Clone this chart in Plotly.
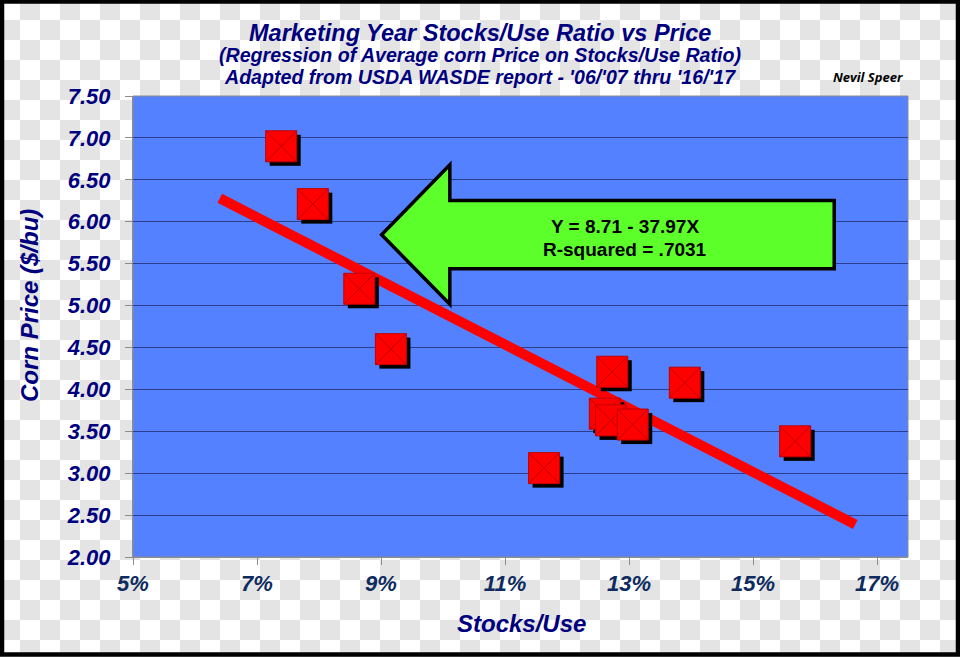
import plotly.graph_objects as go

# ---- data ----
stocks_use = [0.0739, 0.0790, 0.0865, 0.0916, 0.1163, 0.1273, 0.1261, 0.1271, 0.1306, 0.1390, 0.1568]
price = [6.90, 6.21, 5.20, 4.48, 3.06, 4.21, 3.71, 3.63, 3.58, 4.08, 3.38]
x_ticks = [0.05, 0.07, 0.09, 0.11, 0.13, 0.15, 0.17]
x_tick_labels = ["5%", "7%", "9%", "11%", "13%", "15%", "17%"]
y_ticks = [2.0, 2.5, 3.0, 3.5, 4.0, 4.5, 5.0, 5.5, 6.0, 6.5, 7.0, 7.5]
y_tick_labels = ["%.2f" % v for v in y_ticks]
intercept, slope = 8.71, -37.97
fit_x = [0.064, 0.1665]
fit_y = [intercept + slope * v for v in fit_x]

# ---- layout geometry ----
W, H = 960, 657
ML, MR, MT, MB = 133, 52, 96, 100
PW, PH = W - ML - MR, H - MT - MB
XR = [0.05, 0.175]
YR = [2.0, 7.5]
dx = 4 * (XR[1] - XR[0]) / PW
dy = 4 * (YR[1] - YR[0]) / PH

def px(x):
    return (x - ML) / PW

def py(y):
    return (H - MB - y) / PH

FONT = "Liberation Sans, Arial, sans-serif"
NAVY = "#00007f"
CHECK_GRAY = "#e4e4e4"

# checkerboard background (transparent-PNG look): gray cells outside the plot area
CELL = 20
PL, PR_, PT, PB = ML, W - MR, MT, H - MB


def outside_pieces(x0, y0, x1, y1):
    if x1 <= PL or x0 >= PR_ or y1 <= PT or y0 >= PB:
        return [(x0, y0, x1, y1)]
    pieces = []
    if y0 < PT:
        pieces.append((x0, y0, x1, PT))
    if y1 > PB:
        pieces.append((x0, PB, x1, y1))
    my0, my1 = max(y0, PT), min(y1, PB)
    if x0 < PL:
        pieces.append((x0, my0, PL, my1))
    if x1 > PR_:
        pieces.append((PR_, my0, x1, my1))
    return pieces


checker = []
for j in range(0, H // CELL + 1):
    for i in range(0, W // CELL + 1):
        if (i + j) % 2 == 1:
            cx0, cy0 = i * CELL, j * CELL
            cx1, cy1 = min(cx0 + CELL, W), min(cy0 + CELL, H)
            for (a, b, c, d) in outside_pieces(cx0, cy0, cx1, cy1):
                if c - a <= 0 or d - b <= 0:
                    continue
                checker.append(dict(type="rect", xref="paper", yref="paper",
                                    x0=px(a), x1=px(c), y0=py(d), y1=py(b),
                                    fillcolor=CHECK_GRAY, line=dict(width=0), layer="below"))

fig = go.Figure()
fig.add_trace(go.Scatter(x=fit_x, y=fit_y, mode="lines",
                         line=dict(color="#ff0000", width=10), hoverinfo="skip"))
fig.add_trace(go.Scatter(x=[v + dx for v in stocks_use], y=[v - dy for v in price],
                         mode="markers", marker=dict(symbol="square", size=31, color="#000000",
                                                     line=dict(width=0)), hoverinfo="skip"))
fig.add_trace(go.Scatter(x=stocks_use, y=price, mode="markers",
                         marker=dict(symbol="square-x", size=31, color="#ff0000",
                                     line=dict(color="#c00000", width=1))))

# arrow (data coords)
ax_tip, ax_head, ax_end = 0.0901, 0.1011, 0.1631
ay_mid, ay_ht, ay_st, ay_sb, ay_hb = 5.845, 6.68, 6.254, 5.44, 5.015
arrow_path = (f"M {ax_tip},{ay_mid} L {ax_head},{ay_ht} L {ax_head},{ay_st} L {ax_end},{ay_st} "
              f"L {ax_end},{ay_sb} L {ax_head},{ay_sb} L {ax_head},{ay_hb} Z")

shapes = checker + [
    dict(type="rect", xref="paper", yref="paper", x0=0, x1=1, y0=0, y1=1,
         fillcolor="#5481ff", line=dict(color="#8c8c8c", width=1), layer="below"),
    dict(type="path", xref="x", yref="y", path=arrow_path, fillcolor="#5cff2a",
         line=dict(color="#000000", width=3.5), layer="above"),
    dict(type="rect", xref="paper", yref="paper",
         x0=px(2), x1=px(W - 2), y0=py(H - 2.5), y1=py(1.5),
         line=dict(color="#000000", width=4.5), fillcolor="rgba(0,0,0,0)", layer="above"),
]

annotations = [
    dict(text="Marketing Year Stocks/Use Ratio vs Price", x=px(480), y=py(33),
         font=dict(family=FONT, size=23.5, color=NAVY, weight="bold", style="italic")),
    dict(text="(Regression of Average corn Price on Stocks/Use Ratio)", x=px(480), y=py(55),
         font=dict(family=FONT, size=19.6, color=NAVY, weight="bold", style="italic")),
    dict(text="Adapted from USDA WASDE report - '06/'07 thru '16/'17", x=px(480), y=py(77),
         font=dict(family=FONT, size=19.6, color=NAVY, weight="bold", style="italic")),
    dict(text="Nevil Speer", x=px(868), y=py(77),
         font=dict(family="Open Sans, sans-serif", size=13, color="#000000", weight="bold", style="italic")),
    dict(text="Y = 8.71 - 37.97X", x=px(625), y=py(227),
         font=dict(family=FONT, size=19, color="#000000", weight="bold")),
    dict(text="R-squared = .7031", x=px(625), y=py(249),
         font=dict(family=FONT, size=19, color="#000000", weight="bold")),
    dict(text="Corn Price ($/bu)", x=px(29), y=py(306), textangle=-90,
         font=dict(family=FONT, size=24, color=NAVY, weight="bold", style="italic")),
    dict(text="Stocks/Use", x=px(521), y=py(623),
         font=dict(family=FONT, size=24, color=NAVY, weight="bold", style="italic")),
]
for a in annotations:
    a.update(xref="paper", yref="paper", showarrow=False, xanchor="center", yanchor="middle")

fig.update_layout(
    width=W, height=H, margin=dict(l=ML, r=MR, t=MT, b=MB, pad=0),
    paper_bgcolor="#ffffff", plot_bgcolor="rgba(0,0,0,0)", showlegend=False,
    shapes=shapes, annotations=annotations,
)
fig.update_xaxes(range=XR, tickvals=x_ticks, ticktext=x_tick_labels, showgrid=False,
                 zeroline=False, ticks="outside", ticklen=7, tickcolor="#8c8c8c",
                 showline=True, linecolor="#8c8c8c", linewidth=1, ticklabelstandoff=0,
                 tickfont=dict(family=FONT, size=22, color="#0d2b5e", weight="bold", style="italic"))
fig.update_yaxes(range=YR, tickvals=y_ticks, ticktext=y_tick_labels, showgrid=True,
                 gridcolor="#2b3d8f", gridwidth=1, zeroline=False, ticks="outside", ticklen=7,
                 tickcolor="#8c8c8c", showline=True, linecolor="#8c8c8c", linewidth=1,
                 ticklabelstandoff=10,
                 tickfont=dict(family=FONT, size=22, color=NAVY, weight="bold", style="italic"))

fig.write_html("out.html")
